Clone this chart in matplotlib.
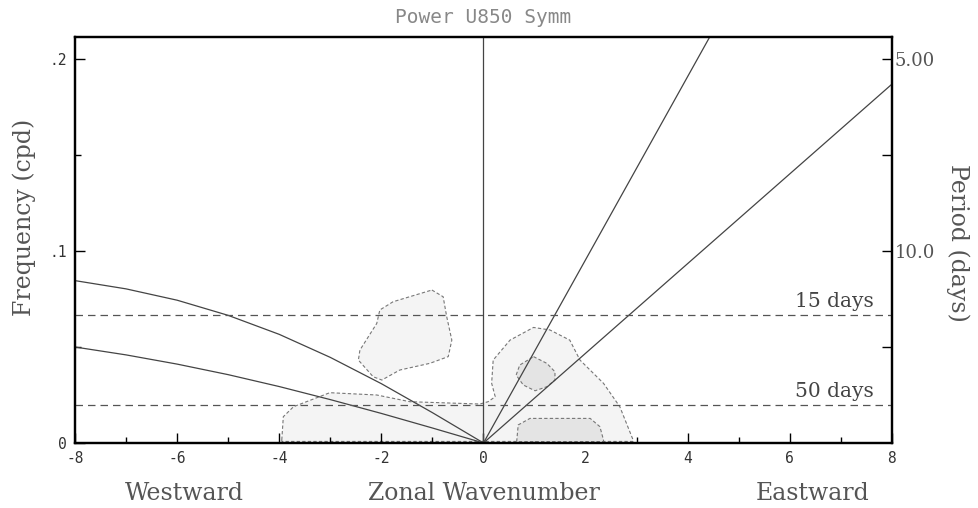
import matplotlib
matplotlib.use("Agg")
import matplotlib.pyplot as plt
from matplotlib.ticker import FixedLocator

# dispersion curves
er_k = [-8, -7, -6, -5, -4, -3, -2, -1, 0]
er_h50 = [0.0846, 0.0803, 0.0744, 0.0665, 0.0566, 0.0446, 0.0309, 0.0158, 0.0]
er_h12 = [0.0500, 0.0459, 0.0411, 0.0356, 0.0294, 0.0226, 0.0154, 0.0078, 0.0]
kel_k = [0, 8]
kel_h12 = [0.0, 0.187]
kel_h50 = [0.0, 0.382]

# period reference lines
periods = [15, 50]

# shaded power contours (outlines)
big_k = [-3.95, -3.92, -3.72, -3.01, -2.09, -1.44, -0.07, 0.09, 0.23, 0.16, 0.19, 0.52,
         0.98, 1.30, 1.69, 1.89, 2.35, 2.67, 2.93, 2.93, -3.95]
big_f = [0.0016, 0.0137, 0.0189, 0.0262, 0.025, 0.0215, 0.0203, 0.0215, 0.0241, 0.0311,
         0.0432, 0.0536, 0.0602, 0.0589, 0.0536, 0.0432, 0.0311, 0.0189, 0.0016, 0.0008, 0.0008]
blob_k = [-1.01, -0.79, -0.72, -0.62, -0.69, -1.05, -1.64, -1.99, -2.16, -2.45, -2.42,
          -2.09, -2.03, -1.77]
blob_f = [0.0797, 0.0762, 0.0658, 0.0536, 0.0450, 0.0415, 0.0380, 0.0328, 0.0345, 0.0432,
          0.0484, 0.0623, 0.0693, 0.0736]
in1_k = [0.98, 1.24, 1.40, 1.40, 1.24, 1.01, 0.78, 0.64, 0.71]
in1_f = [0.0450, 0.0415, 0.0371, 0.0328, 0.0293, 0.0272, 0.0302, 0.0354, 0.0406]
in2_k = [0.65, 0.68, 0.91, 2.09, 2.28, 2.35, 2.35, 0.65]
in2_f = [0.0007, 0.0094, 0.0128, 0.0128, 0.0085, 0.0016, 0.0007, 0.0007]

xticks = [-8, -6, -4, -2, 0, 2, 4, 6, 8]
xticklabels = ["-8", "-6", "-4", "-2", "0", "2", "4", "6", "8"]
yticks = [0, 0.1, 0.2]
yticklabels = ["0", ".1", ".2"]
rticks = [0.1, 0.2]
rticklabels = ["10.0", "5.00"]

fig = plt.figure(figsize=(9.79, 5.08), dpi=100)
ax = fig.add_axes([0.0766, 0.128, 0.8345, 0.799])

light = "#f4f4f4"
dark = "#e4e4e4"
edge = "#777777"
dash = (0, (3, 2))
ax.fill(big_k, big_f, facecolor=light, edgecolor=edge, lw=0.8, ls=dash, zorder=1)
ax.fill(blob_k, blob_f, facecolor=light, edgecolor=edge, lw=0.8, ls=dash, zorder=1)
ax.fill(in1_k, in1_f, facecolor=dark, edgecolor=edge, lw=0.8, ls=dash, zorder=2)
ax.fill(in2_k, in2_f, facecolor=dark, edgecolor=edge, lw=0.8, ls=dash, zorder=2)

lc = "#444444"
ax.plot(er_k, er_h50, color=lc, lw=0.9, zorder=3)
ax.plot(er_k, er_h12, color=lc, lw=0.9, zorder=3)
ax.plot(kel_k, kel_h12, color=lc, lw=0.9, zorder=3)
ax.plot(kel_k, kel_h50, color=lc, lw=0.9, zorder=3)
ax.axvline(0, color=lc, lw=0.9, zorder=3)

serif = "DejaVu Serif"
for p in periods:
    ax.axhline(1.0 / p, color="#555555", lw=0.9, ls=(0, (6, 4)), zorder=3)
    ax.text(7.65, 1.0 / p + 0.002, "%d days" % p, ha="right", va="bottom",
            family=serif, fontsize=14.5, color="#444444")

ax.set_xlim(-8, 8)
ax.set_ylim(0, 0.2115)

ax.set_xticks(xticks)
ax.set_xticklabels(xticklabels, family="DejaVu Sans Mono", fontsize=10.5, color="#333333")
ax.xaxis.set_minor_locator(FixedLocator(range(-7, 8, 2)))
ax.set_yticks(yticks)
ax.set_yticklabels(yticklabels, family="DejaVu Sans Mono", fontsize=10.5, color="#333333")
ax.yaxis.set_minor_locator(FixedLocator([0.05, 0.15]))
ax.tick_params(which="both", direction="in", width=1.0, color="black")
ax.tick_params(which="major", length=7, pad=6)
ax.tick_params(which="minor", length=4)
for s in ax.spines.values():
    s.set_linewidth(1.6)

ax2 = ax.twinx()
ax2.set_ylim(ax.get_ylim())
ax2.set_yticks(rticks)
ax2.set_yticklabels(rticklabels, family=serif, fontsize=13, color="#555555")
ax2.yaxis.set_minor_locator(FixedLocator([0.05, 0.15]))
ax2.tick_params(which="both", direction="in", width=1.0, color="black")
ax2.tick_params(which="major", length=7, pad=2)
ax2.tick_params(which="minor", length=7)
for s in ax2.spines.values():
    s.set_linewidth(1.6)

lab = dict(family=serif, fontsize=17, color="#555555")
ax.set_ylabel("Frequency (cpd)", **lab)
ax.yaxis.set_label_coords(-0.048, 0.557)
ax2.set_ylabel("Period (days)", rotation=270, va="center", **lab)
ax2.yaxis.set_label_coords(1.081, 0.493)
ax.text(-5.85, -0.125, "Westward", ha="center", va="center",
        transform=ax.get_xaxis_transform(), **lab)
ax.text(0.0, -0.125, "Zonal Wavenumber", ha="center", va="center",
        transform=ax.get_xaxis_transform(), **lab)
ax.text(6.45, -0.125, "Eastward", ha="center", va="center",
        transform=ax.get_xaxis_transform(), **lab)

ax.set_title("Power U850 Symm", family="DejaVu Sans Mono", fontsize=14,
             color="#888888", pad=10)

fig.savefig("out.png", dpi=100)
